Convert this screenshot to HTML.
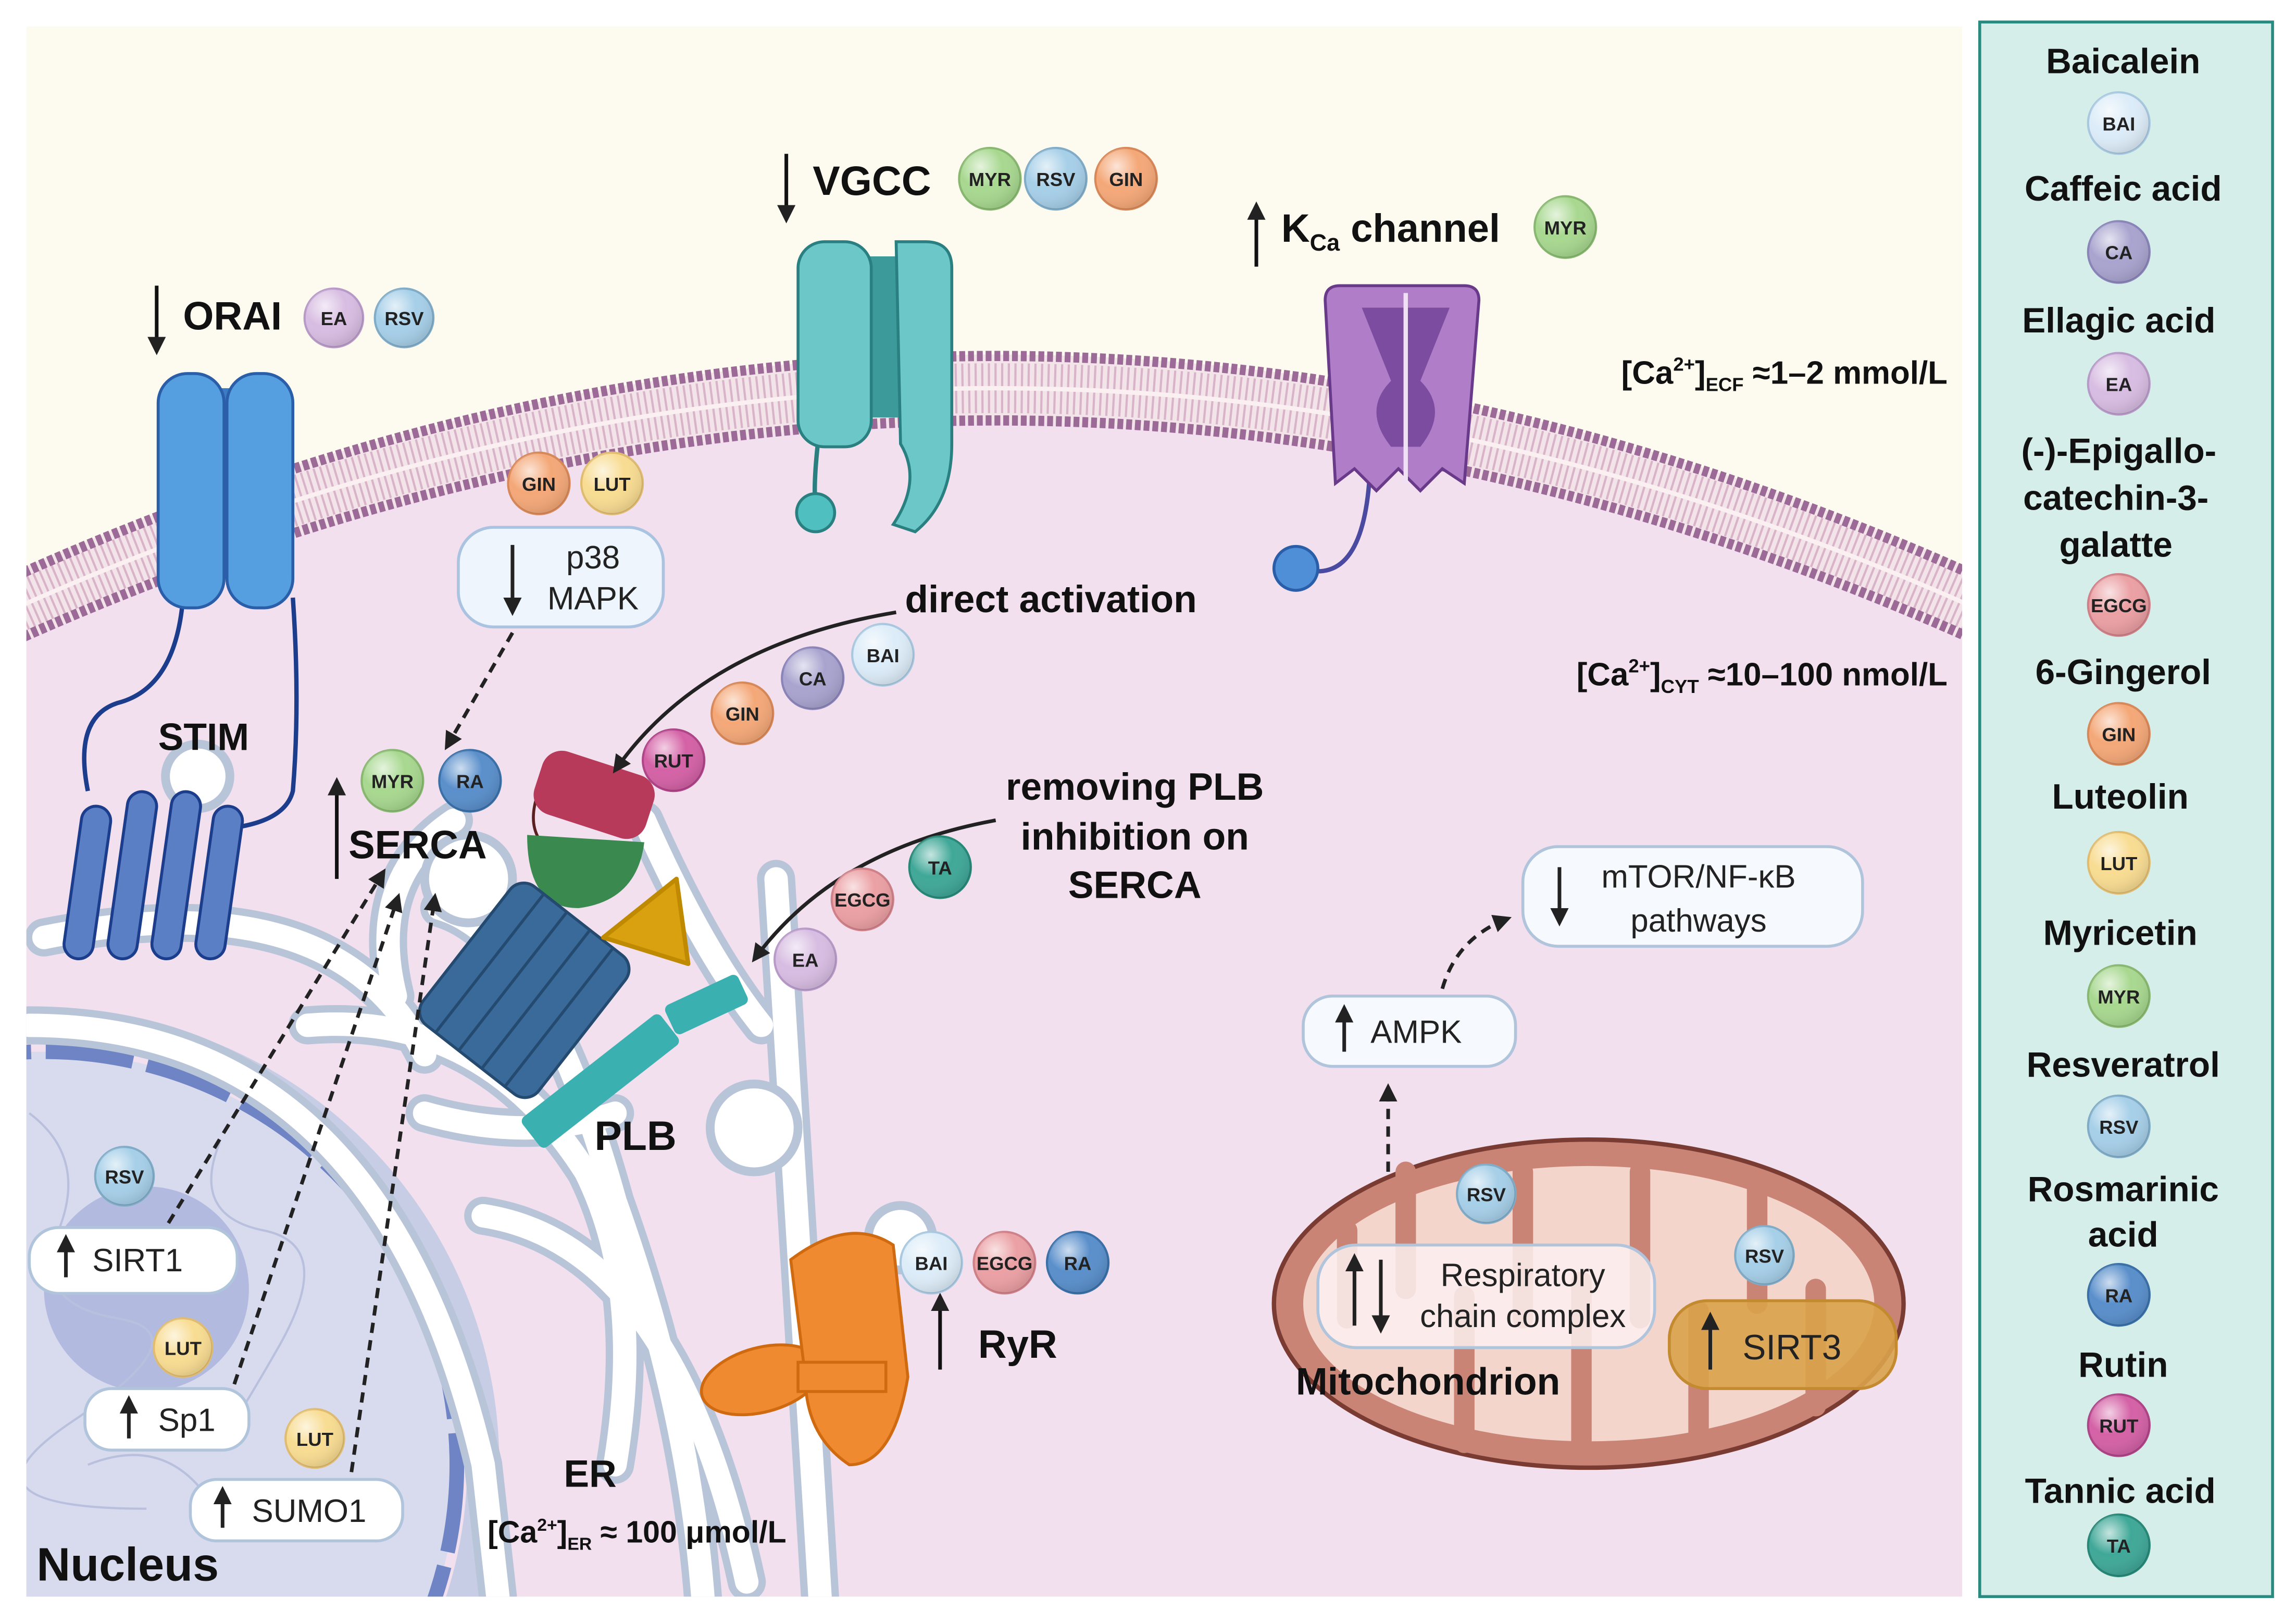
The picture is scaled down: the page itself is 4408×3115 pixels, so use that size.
<!DOCTYPE html>
<html><head><meta charset="utf-8"><style>
html,body{margin:0;padding:0;background:#fff;width:4408px;height:3115px;overflow:hidden}
svg{display:block}
text{font-family:"Liberation Sans",Arial,sans-serif}
.b{font-weight:bold;fill:#111}
.m{font-weight:bold;font-size:13px;fill:#222;text-anchor:middle}
.n{font-size:22px;fill:#222}
</style></head><body>
<svg width="4408" height="3115" viewBox="0 0 1568 1108" xmlns="http://www.w3.org/2000/svg">
<defs>
<radialGradient id="sh" cx="0.35" cy="0.3" r="0.7"><stop offset="0" stop-color="#fff" stop-opacity="0.7"/><stop offset="0.5" stop-color="#fff" stop-opacity="0"/><stop offset="1" stop-color="#000" stop-opacity="0.1"/></radialGradient>
<marker id="ah" viewBox="0 0 10 10" refX="8" refY="5" markerWidth="5" markerHeight="5" orient="auto"><path d="M0,0L10,5L0,10z" fill="#222"/></marker>
<clipPath id="cp"><rect x="18" y="18" width="1322" height="1072"/></clipPath>
</defs>
<rect width="1568" height="1108" fill="#fff"/>
<g clip-path="url(#cp)">
<rect x="18" y="18" width="1322" height="1072" fill="#fdfaef"/>
<path d="M0,430 Q680,120 1360,430 L1360,1100 L0,1100z" fill="#f2e0ef"/>
<path d="M0,420 Q680,110 1360,420" fill="none" stroke="#f3e4ea" stroke-width="46"/>
<path d="M0,420 Q680,110 1360,420" fill="none" stroke="#d9b3c8" stroke-width="34" stroke-dasharray="1.5 3"/>
<path d="M0,420 Q680,110 1360,420" fill="none" stroke="#faf0f2" stroke-width="3"/>
<path d="M0,398 Q680,88 1360,398" fill="none" stroke="#9c6a97" stroke-width="7" stroke-dasharray="4 2"/>
<path d="M0,442 Q680,132 1360,442" fill="none" stroke="#9c6a97" stroke-width="7" stroke-dasharray="4 2"/>
<circle cx="30" cy="1000" r="300" fill="#f2e0ef" stroke="#c6cde4" stroke-width="22"/>
<circle cx="30" cy="1000" r="282" fill="#d8dbee" stroke="#6f84c4" stroke-width="10" stroke-dasharray="60 10"/>
<circle cx="100" cy="880" r="70" fill="#aab2dc" opacity="0.8"/>
<g fill="none" stroke="#b9c0dd" stroke-width="1.5">
<path d="M20,760 q40,30 20,80 t40,60 t-30,70 t50,60"/><path d="M150,780 q-20,50 30,60 t10,80 t-40,60"/><path d="M60,1000 q50,-20 80,20 t70,10"/>
</g>
<g fill="none" stroke-linecap="round">
<g stroke="#b8c4d8" stroke-width="26">
<path d="M30,640 Q230,600 290,720"/><path d="M310,560 Q250,600 270,680"/>
<path d="M20,700 Q260,700 330,1000 L340,1090"/>
<path d="M210,700 Q330,690 400,800 Q440,880 420,1000"/>
<path d="M290,760 Q360,780 420,760"/>
<path d="M300,620 Q370,640 420,820 Q470,960 480,1090"/>
<path d="M330,830 Q460,850 510,1080"/>
<path d="M440,560 Q480,650 520,700"/>
<path d="M530,600 L560,1090"/>
</g>
<g stroke="#ffffff" stroke-width="16">
<path d="M30,640 Q230,600 290,720"/><path d="M310,560 Q250,600 270,680"/>
<path d="M20,700 Q260,700 330,1000 L340,1090"/>
<path d="M210,700 Q330,690 400,800 Q440,880 420,1000"/>
<path d="M290,760 Q360,780 420,760"/>
<path d="M300,620 Q370,640 420,820 Q470,960 480,1090"/>
<path d="M330,830 Q460,850 510,1080"/>
<path d="M440,560 Q480,650 520,700"/>
<path d="M530,600 L560,1090"/>
</g>
<circle cx="135" cy="530" r="22" fill="#fff" stroke="#b8c4d8" stroke-width="6"/>
<circle cx="320" cy="600" r="30" fill="#fff" stroke="#b8c4d8" stroke-width="6"/>
<circle cx="515" cy="770" r="30" fill="#fff" stroke="#b8c4d8" stroke-width="6"/>
<circle cx="615" cy="845" r="22" fill="#fff" stroke="#b8c4d8" stroke-width="6"/>
</g>
<ellipse cx="1085" cy="890" rx="215" ry="112" fill="#c98475" stroke="#7a3c32" stroke-width="3"/>
<ellipse cx="1085" cy="890" rx="195" ry="94" fill="#f3d5cc"/>
<g fill="none" stroke="#c98475" stroke-width="14" stroke-linecap="round">
<path d="M920,900 v-60"/><path d="M960,800 v80"/><path d="M1000,985 v-100"/><path d="M1040,800 v100"/><path d="M1080,985 v-110"/><path d="M1120,800 v100"/><path d="M1160,985 v-90"/><path d="M1200,810 v80"/><path d="M1240,960 v-80"/>
</g>
</g>
<path d="M125,408 Q120,470 80,480 Q50,490 60,540" fill="none" stroke="#1c3c8c" stroke-width="3"/>
<path d="M200,408 Q205,480 200,540 Q195,560 160,565" fill="none" stroke="#1c3c8c" stroke-width="3"/>
<g fill="#5b7fc4" stroke="#1c3c8c" stroke-width="2">
<rect x="50" y="550" width="20" height="105" rx="10" transform="rotate(8 60 600)"/>
<rect x="80" y="540" width="20" height="115" rx="10" transform="rotate(8 90 600)"/>
<rect x="110" y="540" width="20" height="115" rx="10" transform="rotate(8 120 600)"/>
<rect x="140" y="550" width="20" height="105" rx="10" transform="rotate(8 150 600)"/>
</g>
<rect x="140" y="265" width="30" height="130" fill="#3c7cc4"/>
<rect x="108" y="255" width="45" height="160" rx="20" fill="#559fe0" stroke="#2a5ea8" stroke-width="2"/>
<rect x="155" y="255" width="45" height="160" rx="20" fill="#559fe0" stroke="#2a5ea8" stroke-width="2"/>
<path d="M560,290 Q555,330 557,345" fill="none" stroke="#2a8080" stroke-width="3"/>
<circle cx="557" cy="350" r="13" fill="#4fbfbf" stroke="#2a8080" stroke-width="2"/>
<rect x="585" y="175" width="38" height="110" fill="#3c9a9a"/>
<rect x="545" y="165" width="50" height="140" rx="18" fill="#6cc8c8" stroke="#2a8080" stroke-width="2"/>
<path d="M612,165 h20 q18,0 18,18 v120 q0,40 -25,60 l-15,-5 q20,-30 5,-55 z" fill="#6cc8c8" stroke="#2a8080" stroke-width="2"/>
<path d="M935,330 Q930,390 900,390" fill="none" stroke="#4a4aa0" stroke-width="3"/>
<circle cx="885" cy="388" r="15" fill="#4f8fd8" stroke="#2a5ea8" stroke-width="2"/>
<path d="M905,205 Q905,195 915,195 L1000,195 Q1010,195 1010,205 L1000,330 L985,320 L970,335 L955,320 L940,335 L925,320 L912,330 Z" fill="#b07ec8" stroke="#6a3a8a" stroke-width="2"/>
<path d="M930,210 h60 l-20,50 q20,20 0,45 h-20 q-20,-25 0,-45z" fill="#7c4ca0"/>
<line x1="960" y1="200" x2="960" y2="330" stroke="#f0e0f5" stroke-width="3"/>
<path d="M368,540 q-15,40 30,50" fill="none" stroke="#5a2020" stroke-width="2"/>
<rect x="365" y="520" width="80" height="45" rx="14" fill="#b83a5a" transform="rotate(18 405 545)"/>
<path d="M360,570 Q360,620 395,620 Q435,615 440,575 Z" fill="#3a8a50"/>
<g transform="rotate(38 355 680)">
<rect x="305" y="615" width="100" height="120" rx="12" fill="#3a6a9a" stroke="#244a70" stroke-width="2"/>
<g stroke="#244a70" stroke-width="2"><line x1="325" y1="615" x2="325" y2="735"/><line x1="345" y1="615" x2="345" y2="735"/><line x1="365" y1="615" x2="365" y2="735"/><line x1="385" y1="615" x2="385" y2="735"/></g>
</g>
<path d="M412,640 L462,600 L470,658 Z" fill="#d9a010" stroke="#c08a00" stroke-width="3" stroke-linejoin="round"/>
<rect x="350" y="725" width="120" height="26" rx="4" fill="#3ab0b0" transform="rotate(-38 410 738)"/>
<rect x="455" y="675" width="55" height="22" rx="4" fill="#3ab0b0" transform="rotate(-25 482 686)"/>
<g fill="#f08a30" stroke="#d06a10" stroke-width="2">
<ellipse cx="520" cy="942" rx="42" ry="22" transform="rotate(-15 520 942)"/>
<path d="M540,860 q40,-30 70,-10 l10,90 q-10,60 -40,60 q-30,-20 -30,-60 z"/>
<path d="M545,930 h60 v20 h-60z"/>
</g>
<g fill="none" stroke="#222" stroke-width="2.5">
<path d="M612,418 Q480,440 420,526" marker-end="url(#ah)"/>
<path d="M680,560 Q570,580 515,655" marker-end="url(#ah)"/>
</g>
<g fill="none" stroke="#222" stroke-width="2.5" stroke-dasharray="7 5">
<path d="M350,432 L305,510" marker-end="url(#ah)"/>
<path d="M115,835 L262,595" marker-end="url(#ah)"/>
<path d="M160,945 L272,612" marker-end="url(#ah)"/>
<path d="M240,1005 L297,612" marker-end="url(#ah)"/>
<path d="M948,800 L948,742" marker-end="url(#ah)"/>
<path d="M985,675 Q995,640 1030,627" marker-end="url(#ah)"/>
</g>
<g stroke="#111" stroke-width="2.5" marker-end="url(#ah)">
<line x1="107" y1="195" x2="107" y2="240"/>
<line x1="537" y1="105" x2="537" y2="150"/>
<line x1="858" y1="182" x2="858" y2="140"/>
<line x1="230" y1="600" x2="230" y2="533"/>
<line x1="642" y1="935" x2="642" y2="885"/>
</g>
<rect x="313" y="360" width="140" height="68" rx="24" fill="#eef5fc" stroke="#a9c3e0" stroke-width="2"/>
<line x1="350" y1="372" x2="350" y2="418" stroke="#222" stroke-width="2.5" marker-end="url(#ah)"/>
<text x="405" y="388" class="n" text-anchor="middle">p38</text><text x="405" y="416" class="n" text-anchor="middle">MAPK</text>
<rect x="20" y="838" width="142" height="45" rx="20" fill="#fff" stroke="#b0c4dc" stroke-width="2"/>
<line x1="45" y1="872" x2="45" y2="845" stroke="#222" stroke-width="2.5" marker-end="url(#ah)"/><text x="63" y="868" class="n">SIRT1</text>
<rect x="58" y="948" width="112" height="42" rx="18" fill="#fff" stroke="#b0c4dc" stroke-width="2"/>
<line x1="88" y1="982" x2="88" y2="955" stroke="#222" stroke-width="2.5" marker-end="url(#ah)"/><text x="108" y="977" class="n">Sp1</text>
<rect x="130" y="1010" width="145" height="42" rx="18" fill="#fff" stroke="#b0c4dc" stroke-width="2"/>
<line x1="152" y1="1043" x2="152" y2="1017" stroke="#222" stroke-width="2.5" marker-end="url(#ah)"/><text x="172" y="1039" class="n">SUMO1</text>
<rect x="890" y="680" width="145" height="48" rx="20" fill="#f6f9fd" stroke="#b0c4dc" stroke-width="2"/>
<line x1="918" y1="718" x2="918" y2="688" stroke="#222" stroke-width="2.5" marker-end="url(#ah)"/><text x="936" y="712" class="n">AMPK</text>
<rect x="1040" y="578" width="232" height="68" rx="24" fill="#f6f9fd" stroke="#b0c4dc" stroke-width="2"/>
<line x1="1065" y1="592" x2="1065" y2="630" stroke="#222" stroke-width="2.5" marker-end="url(#ah)"/>
<text x="1160" y="606" class="n" text-anchor="middle">mTOR/NF-κB</text><text x="1160" y="636" class="n" text-anchor="middle">pathways</text>
<rect x="900" y="850" width="230" height="70" rx="26" fill="#fbf0f0" fill-opacity="0.85" stroke="#b0c4dc" stroke-width="2"/>
<line x1="925" y1="905" x2="925" y2="858" stroke="#222" stroke-width="2.5" marker-end="url(#ah)"/>
<line x1="943" y1="860" x2="943" y2="908" stroke="#222" stroke-width="2.5" marker-end="url(#ah)"/>
<text x="1040" y="878" class="n" text-anchor="middle">Respiratory</text><text x="1040" y="906" class="n" text-anchor="middle">chain complex</text>
<rect x="1140" y="888" width="155" height="60" rx="26" fill="#d9a24a" fill-opacity="0.9" stroke="#c48a30" stroke-width="2"/>
<line x1="1168" y1="935" x2="1168" y2="898" stroke="#222" stroke-width="2.5" marker-end="url(#ah)"/><text x="1190" y="928" class="n" style="font-size:24px">SIRT3</text>
<text x="125" y="225" class="b" font-size="27">ORAI</text>
<text x="555" y="133" class="b" font-size="28">VGCC</text>
<text x="875" y="165" class="b" font-size="27">K<tspan font-size="16" dy="6">Ca</tspan><tspan dy="-6"> channel</tspan></text>
<text x="1330" y="262" class="b" font-size="22" text-anchor="end">[Ca<tspan font-size="13" dy="-9">2+</tspan><tspan dy="9">]</tspan><tspan font-size="13" dy="5">ECF</tspan><tspan dy="-5"> ≈1–2 mmol/L</tspan></text>
<text x="1330" y="468" class="b" font-size="22" text-anchor="end">[Ca<tspan font-size="13" dy="-9">2+</tspan><tspan dy="9">]</tspan><tspan font-size="13" dy="5">CYT</tspan><tspan dy="-5"> ≈10–100 nmol/L</tspan></text>
<text x="618" y="418" class="b" font-size="26">direct activation</text>
<text x="775" y="546" class="b" font-size="26" text-anchor="middle">removing PLB</text>
<text x="775" y="580" class="b" font-size="26" text-anchor="middle">inhibition on</text>
<text x="775" y="613" class="b" font-size="26" text-anchor="middle">SERCA</text>
<text x="108" y="512" class="b" font-size="26">STIM</text>
<text x="238" y="586" class="b" font-size="27">SERCA</text>
<text x="406" y="785" class="b" font-size="28">PLB</text>
<text x="668" y="927" class="b" font-size="27">RyR</text>
<text x="385" y="1015" class="b" font-size="26">ER</text>
<text x="333" y="1053" class="b" font-size="21">[Ca<tspan font-size="12" dy="-8">2+</tspan><tspan dy="8">]</tspan><tspan font-size="12" dy="5">ER</tspan><tspan dy="-5"> ≈ 100 μmol/L</tspan></text>
<text x="25" y="1079" class="b" font-size="32">Nucleus</text>
<text x="885" y="952" class="b" font-size="26">Mitochondrion</text>
<rect x="1352" y="15" width="200" height="1075" fill="#d6eeea" stroke="#2a8a80" stroke-width="2"/>
<g class="b" font-size="24" text-anchor="middle">
<text x="1450" y="50">Baicalein</text><text x="1450" y="137">Caffeic acid</text><text x="1447" y="227">Ellagic acid</text>
<text x="1447" y="316">(-)-Epigallo-</text><text x="1445" y="348">catechin-3-</text><text x="1445" y="380">galatte</text>
<text x="1450" y="467">6-Gingerol</text><text x="1448" y="552">Luteolin</text><text x="1448" y="645">Myricetin</text>
<text x="1450" y="735">Resveratrol</text><text x="1450" y="820">Rosmarinic</text><text x="1450" y="851">acid</text>
<text x="1450" y="940">Rutin</text><text x="1448" y="1026">Tannic acid</text>
</g>
<g stroke-width="1.5">
<g><circle cx="1447" cy="84" r="21" fill="#dcecf8" stroke="#a8c8e0"/><circle cx="1447" cy="84" r="21" fill="url(#sh)"/><text x="1447" y="89" class="m">BAI</text></g>
<g><circle cx="1447" cy="172" r="21" fill="#a9a4cf" stroke="#8a84b8"/><circle cx="1447" cy="172" r="21" fill="url(#sh)"/><text x="1447" y="177" class="m">CA</text></g>
<g><circle cx="1447" cy="262" r="21" fill="#d8bde2" stroke="#b89ac8"/><circle cx="1447" cy="262" r="21" fill="url(#sh)"/><text x="1447" y="267" class="m">EA</text></g>
<g><circle cx="1447" cy="413" r="21" fill="#eba0a4" stroke="#d08088"/><circle cx="1447" cy="413" r="21" fill="url(#sh)"/><text x="1447" y="418" class="m">EGCG</text></g>
<g><circle cx="1447" cy="501" r="21" fill="#f4a878" stroke="#d88858"/><circle cx="1447" cy="501" r="21" fill="url(#sh)"/><text x="1447" y="506" class="m">GIN</text></g>
<g><circle cx="1447" cy="589" r="21" fill="#f8dc92" stroke="#e0bc70"/><circle cx="1447" cy="589" r="21" fill="url(#sh)"/><text x="1447" y="594" class="m">LUT</text></g>
<g><circle cx="1447" cy="680" r="21" fill="#a8d890" stroke="#88b870"/><circle cx="1447" cy="680" r="21" fill="url(#sh)"/><text x="1447" y="685" class="m">MYR</text></g>
<g><circle cx="1447" cy="769" r="21" fill="#a6cfe8" stroke="#80acc8"/><circle cx="1447" cy="769" r="21" fill="url(#sh)"/><text x="1447" y="774" class="m">RSV</text></g>
<g><circle cx="1447" cy="884" r="21" fill="#5a8fcb" stroke="#3a70a8"/><circle cx="1447" cy="884" r="21" fill="url(#sh)"/><text x="1447" y="889" class="m">RA</text></g>
<g><circle cx="1447" cy="973" r="21" fill="#d462a6" stroke="#b04488"/><circle cx="1447" cy="973" r="21" fill="url(#sh)"/><text x="1447" y="978" class="m">RUT</text></g>
<g><circle cx="1447" cy="1055" r="21" fill="#40a898" stroke="#288878"/><circle cx="1447" cy="1055" r="21" fill="url(#sh)"/><text x="1447" y="1060" class="m">TA</text></g>
<g><circle cx="228" cy="217" r="20" fill="#d8bde2" stroke="#b89ac8"/><circle cx="228" cy="217" r="20" fill="url(#sh)"/><text x="228" y="222" class="m">EA</text></g>
<g><circle cx="276" cy="217" r="20" fill="#a6cfe8" stroke="#80acc8"/><circle cx="276" cy="217" r="20" fill="url(#sh)"/><text x="276" y="222" class="m">RSV</text></g>
<g><circle cx="676" cy="122" r="21" fill="#a8d890" stroke="#88b870"/><circle cx="676" cy="122" r="21" fill="url(#sh)"/><text x="676" y="127" class="m">MYR</text></g>
<g><circle cx="721" cy="122" r="21" fill="#a6cfe8" stroke="#80acc8"/><circle cx="721" cy="122" r="21" fill="url(#sh)"/><text x="721" y="127" class="m">RSV</text></g>
<g><circle cx="769" cy="122" r="21" fill="#f4a878" stroke="#d88858"/><circle cx="769" cy="122" r="21" fill="url(#sh)"/><text x="769" y="127" class="m">GIN</text></g>
<g><circle cx="1069" cy="155" r="21" fill="#a8d890" stroke="#88b870"/><circle cx="1069" cy="155" r="21" fill="url(#sh)"/><text x="1069" y="160" class="m">MYR</text></g>
<g><circle cx="368" cy="330" r="21" fill="#f4a878" stroke="#d88858"/><circle cx="368" cy="330" r="21" fill="url(#sh)"/><text x="368" y="335" class="m">GIN</text></g>
<g><circle cx="418" cy="330" r="21" fill="#f8dc92" stroke="#e0bc70"/><circle cx="418" cy="330" r="21" fill="url(#sh)"/><text x="418" y="335" class="m">LUT</text></g>
<g><circle cx="268" cy="533" r="21" fill="#a8d890" stroke="#88b870"/><circle cx="268" cy="533" r="21" fill="url(#sh)"/><text x="268" y="538" class="m">MYR</text></g>
<g><circle cx="321" cy="533" r="21" fill="#5a8fcb" stroke="#3a70a8"/><circle cx="321" cy="533" r="21" fill="url(#sh)"/><text x="321" y="538" class="m">RA</text></g>
<g><circle cx="603" cy="447" r="21" fill="#dcecf8" stroke="#a8c8e0"/><circle cx="603" cy="447" r="21" fill="url(#sh)"/><text x="603" y="452" class="m">BAI</text></g>
<g><circle cx="555" cy="463" r="21" fill="#a9a4cf" stroke="#8a84b8"/><circle cx="555" cy="463" r="21" fill="url(#sh)"/><text x="555" y="468" class="m">CA</text></g>
<g><circle cx="507" cy="487" r="21" fill="#f4a878" stroke="#d88858"/><circle cx="507" cy="487" r="21" fill="url(#sh)"/><text x="507" y="492" class="m">GIN</text></g>
<g><circle cx="460" cy="519" r="21" fill="#d462a6" stroke="#b04488"/><circle cx="460" cy="519" r="21" fill="url(#sh)"/><text x="460" y="524" class="m">RUT</text></g>
<g><circle cx="642" cy="592" r="21" fill="#40a898" stroke="#288878"/><circle cx="642" cy="592" r="21" fill="url(#sh)"/><text x="642" y="597" class="m">TA</text></g>
<g><circle cx="589" cy="614" r="21" fill="#eba0a4" stroke="#d08088"/><circle cx="589" cy="614" r="21" fill="url(#sh)"/><text x="589" y="619" class="m">EGCG</text></g>
<g><circle cx="550" cy="655" r="21" fill="#d8bde2" stroke="#b89ac8"/><circle cx="550" cy="655" r="21" fill="url(#sh)"/><text x="550" y="660" class="m">EA</text></g>
<g><circle cx="636" cy="862" r="21" fill="#dcecf8" stroke="#a8c8e0"/><circle cx="636" cy="862" r="21" fill="url(#sh)"/><text x="636" y="867" class="m">BAI</text></g>
<g><circle cx="686" cy="862" r="21" fill="#eba0a4" stroke="#d08088"/><circle cx="686" cy="862" r="21" fill="url(#sh)"/><text x="686" y="867" class="m">EGCG</text></g>
<g><circle cx="736" cy="862" r="21" fill="#5a8fcb" stroke="#3a70a8"/><circle cx="736" cy="862" r="21" fill="url(#sh)"/><text x="736" y="867" class="m">RA</text></g>
<g><circle cx="85" cy="803" r="20" fill="#a6cfe8" stroke="#80acc8"/><circle cx="85" cy="803" r="20" fill="url(#sh)"/><text x="85" y="808" class="m">RSV</text></g>
<g><circle cx="125" cy="920" r="20" fill="#f8dc92" stroke="#e0bc70"/><circle cx="125" cy="920" r="20" fill="url(#sh)"/><text x="125" y="925" class="m">LUT</text></g>
<g><circle cx="215" cy="982" r="20" fill="#f8dc92" stroke="#e0bc70"/><circle cx="215" cy="982" r="20" fill="url(#sh)"/><text x="215" y="987" class="m">LUT</text></g>
<g><circle cx="1015" cy="815" r="20" fill="#a6cfe8" stroke="#80acc8"/><circle cx="1015" cy="815" r="20" fill="url(#sh)"/><text x="1015" y="820" class="m">RSV</text></g>
<g><circle cx="1205" cy="857" r="20" fill="#a6cfe8" stroke="#80acc8"/><circle cx="1205" cy="857" r="20" fill="url(#sh)"/><text x="1205" y="862" class="m">RSV</text></g>
</g>
</svg>
</body></html>
